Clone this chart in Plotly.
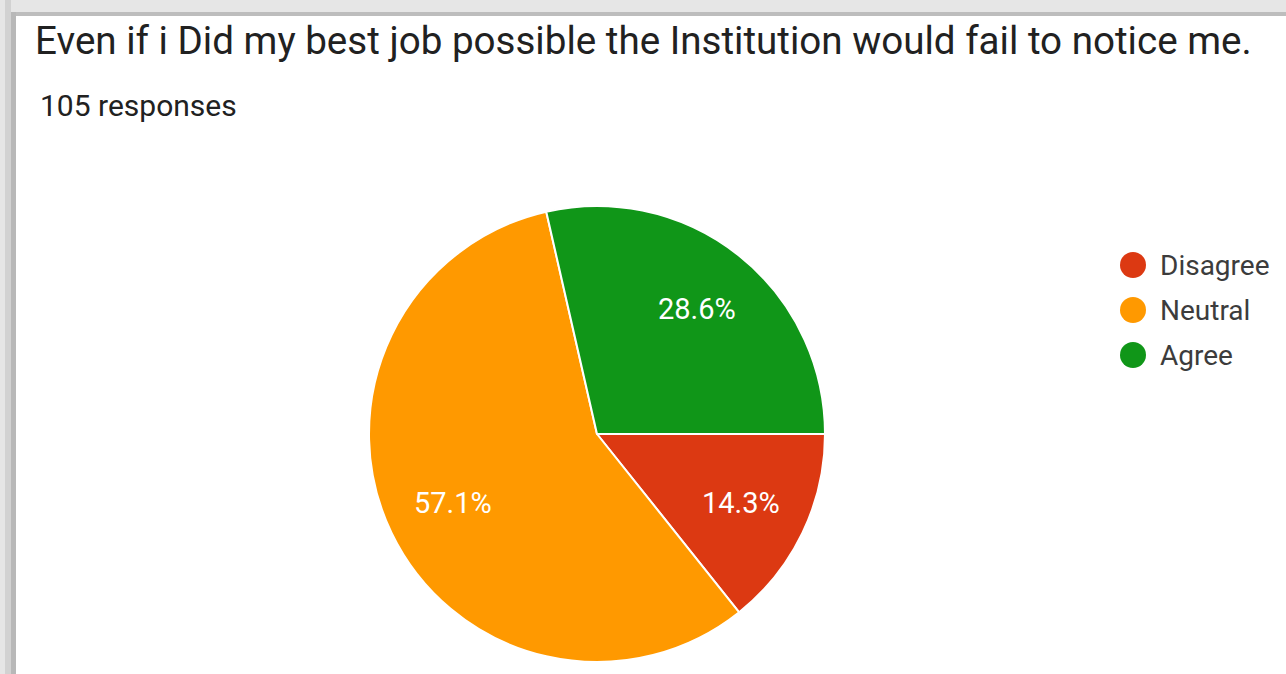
import math
import plotly.graph_objects as go

labels = ["Disagree", "Neutral", "Agree"]
values = [15, 60, 30]
colors = ["#dc3912", "#ff9900", "#109618"]
title_text = "Even if i Did my best job possible the Institution would fail to notice me."
subtitle_text = "105 responses"

W, H = 1286, 674
cx, cy, r = 597, 434, 228
FONT = "Roboto, Arial, sans-serif"

fig = go.Figure()
fig.add_trace(go.Pie(
    labels=labels, values=values, sort=False, direction="clockwise", rotation=90,
    marker=dict(colors=colors, line=dict(color="white", width=2)),
    textinfo="none",
    domain=dict(x=[(cx - r) / W, (cx + r) / W], y=[1 - (cy + r) / H, 1 - (cy - r) / H]),
    showlegend=False, hoverinfo="label+percent",
))

shapes = [
    dict(type="rect", xref="paper", yref="paper", x0=0, x1=1, y0=1 - 12 / H, y1=1,
         fillcolor="#e6e6e6", line_width=0, layer="above"),
    dict(type="rect", xref="paper", yref="paper", x0=0, x1=1, y0=1 - 16 / H, y1=1 - 12 / H,
         fillcolor="#bdbdbd", line_width=0, layer="above"),
    dict(type="rect", xref="paper", yref="paper", x0=0, x1=5 / W, y0=0, y1=1,
         fillcolor="#e6e6e6", line_width=0, layer="above"),
    dict(type="rect", xref="paper", yref="paper", x0=5 / W, x1=11 / W, y0=0, y1=1,
         fillcolor="#d2d2d2", line_width=0, layer="above"),
    dict(type="rect", xref="paper", yref="paper", x0=11 / W, x1=16 / W, y0=0, y1=1 - 12 / H,
         fillcolor="#b8b8b8", line_width=0, layer="above"),
]

annotations = [
    dict(text=title_text, xref="paper", yref="paper", x=33 / W, y=1 - 40 / H,
         xanchor="left", yanchor="middle", showarrow=False,
         font=dict(family=FONT, size=38.6, color="#212121")),
    dict(text=subtitle_text, xref="paper", yref="paper", x=38 / W, y=1 - 105 / H,
         xanchor="left", yanchor="middle", showarrow=False,
         font=dict(family=FONT, size=30, color="#212121")),
]

# percentage labels placed along each slice's mid-angle (clockwise from 3 o'clock)
total = sum(values)
start = 0.0
for v in values:
    frac = v / total
    mid = start + frac / 2
    ang = -mid * 2 * math.pi
    px = cx + 0.7 * r * math.cos(ang)
    py = cy - 0.7 * r * math.sin(ang)
    annotations.append(dict(text=f"{frac * 100:.1f}%", xref="paper", yref="paper",
                            x=px / W, y=1 - py / H, xanchor="center", yanchor="middle",
                            showarrow=False, font=dict(family=FONT, size=29, color="white")))
    start += frac

# legend: circle markers + labels
lx, ly0, lstep, lr = 1133, 265, 45, 13
for i, (lab, col) in enumerate(zip(labels, colors)):
    yy = ly0 + i * lstep
    shapes.append(dict(type="circle", xref="paper", yref="paper",
                       x0=(lx - lr) / W, x1=(lx + lr) / W,
                       y0=1 - (yy + lr) / H, y1=1 - (yy - lr) / H,
                       fillcolor=col, line_width=0))
    annotations.append(dict(text=lab, xref="paper", yref="paper", x=1158 / W, y=1 - yy / H,
                            xanchor="left", yanchor="middle", showarrow=False,
                            font=dict(family=FONT, size=28, color="#3c3c3c")))

fig.update_layout(
    width=W, height=H, margin=dict(l=0, r=0, t=0, b=0),
    paper_bgcolor="white", plot_bgcolor="white",
    shapes=shapes, annotations=annotations, showlegend=False,
)
fig.write_html("out.html")
